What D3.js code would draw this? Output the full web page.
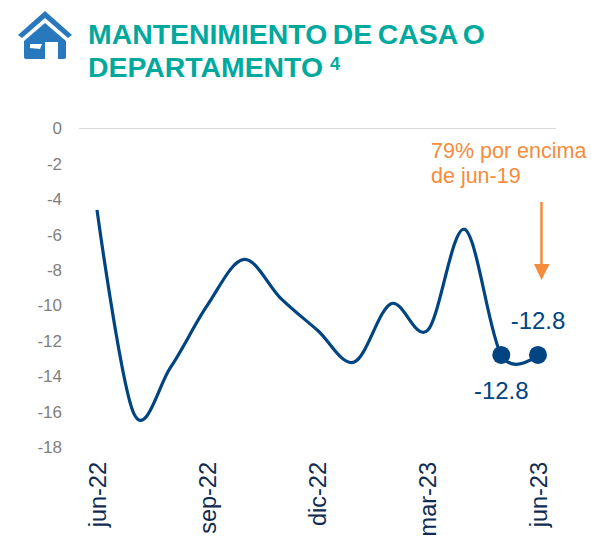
<!DOCTYPE html>
<html>
<head>
<meta charset="utf-8">
<title></title>
<script src="https://d3js.org/d3.v7.min.js"></script>
<style>
body { margin: 0; background: #fff; }
svg { display: block; font-family: "Liberation Sans", Arial, sans-serif; }
</style>
</head>
<body>
<div id="chart"></div>
<script>
const months = ['jun-22','jul-22','ago-22','sep-22','oct-22','nov-22','dic-22','ene-23','feb-23','mar-23','abr-23','may-23','jun-23'];
const values = [-4.6,-16.1,-13.5,-10,-7.4,-9.6,-11.4,-13.2,-9.9,-11.4,-5.7,-12.8,-12.8];
const shownMonths = ['jun-22','sep-22','dic-22','mar-23','jun-23'];
const yTicks = [0,-2,-4,-6,-8,-10,-12,-14,-16,-18];
const titleLines = ['MANTENIMIENTO DE CASA O','DEPARTAMENTO'];
const noteLines = ['79% por encima','de jun-19'];

const width = 591, height = 537;
const svg = d3.select('#chart').append('svg').attr('width', width).attr('height', height);

const x = d3.scalePoint().domain(months).range([97, 538]);
const y = d3.scaleLinear().domain([-18, 0]).range([447, 128.5]);

// house icon
const icon = svg.append('g').attr('fill', '#2878bd');
icon.append('path').attr('d', 'M45 11 L72 35 L68 38 L45 18 L22 38 L18 35 Z');
icon.append('path').attr('fill-rule', 'evenodd')
    .attr('d', 'M45 23 L66 41 L66 57 Q66 59 64 59 L58 59 L58 42 L45 42 L45 59 L26 59 Q24 59 24 57 L24 41 Z M30 44 L42 44 L40 49 L30 48 Z');

// title
const title = svg.append('g').attr('fill', '#00a99d').attr('font-weight', 'bold')
    .attr('font-size', 28.4).attr('word-spacing', -2.3);
title.selectAll('text').data(titleLines).join('text')
    .attr('x', 88).attr('y', (d, i) => 44 + i * 33).text(d => d);
title.append('text').attr('x', 330).attr('y', 70).attr('font-size', 18).text('4');

// y axis
const yAxis = svg.append('g').attr('transform', 'translate(79,0)')
    .call(d3.axisLeft(y).tickValues(yTicks).tickSize(0).tickPadding(17).tickFormat(d => String(d)));
yAxis.select('.domain').remove();
yAxis.selectAll('text').attr('font-family', 'inherit').attr('font-size', 17).attr('fill', '#7f7f7f');

svg.append('line').attr('x1', 79).attr('x2', 556).attr('y1', y(0)).attr('y2', y(0))
    .attr('stroke', '#d9d9d9').attr('stroke-width', 1);

// x axis
const xAxis = svg.append('g').attr('transform', 'translate(0,462)')
    .call(d3.axisBottom(x).tickValues(shownMonths).tickSize(0).tickPadding(0));
xAxis.select('.domain').remove();
xAxis.selectAll('text')
    .attr('font-family', 'inherit').attr('font-size', 23.5).attr('fill', '#0f2b52')
    .attr('text-anchor', 'end').attr('dy', 0)
    .attr('transform', 'rotate(-90) translate(0,8)');

// line
const line = d3.line().x((d, i) => x(months[i])).y(d => y(d)).curve(d3.curveCatmullRom.alpha(0));
svg.append('path').attr('d', line(values)).attr('fill', 'none')
    .attr('stroke', '#004481').attr('stroke-width', 3.2);

// last two points
const endIdx = [11, 12];
svg.selectAll('.dot').data(endIdx).join('circle').attr('class', 'dot')
    .attr('cx', i => x(months[i])).attr('cy', i => y(values[i])).attr('r', 9).attr('fill', '#004481');
const labelOffsets = [{dx: 0, dy: 44}, {dx: 0, dy: -26}];
svg.selectAll('.val').data(endIdx).join('text').attr('class', 'val')
    .attr('x', (i, k) => x(months[i]) + labelOffsets[k].dx)
    .attr('y', (i, k) => y(values[i]) + labelOffsets[k].dy)
    .attr('text-anchor', 'middle').attr('font-size', 24).attr('fill', '#004481')
    .text(i => values[i].toFixed(1));

// note and arrow
svg.append('g').selectAll('text').data(noteLines).join('text')
    .attr('x', 431).attr('y', (d, i) => 158 + i * 25)
    .attr('font-size', 21.5).attr('fill', '#f68b3c').text(d => d);
svg.append('line').attr('x1', 541.5).attr('x2', 541.5).attr('y1', 202).attr('y2', 266)
    .attr('stroke', '#f68b3c').attr('stroke-width', 2.5);
svg.append('path').attr('d', 'M534 264 L549.5 264 L541.5 280 Z').attr('fill', '#f68b3c');
</script>
</body>
</html>
